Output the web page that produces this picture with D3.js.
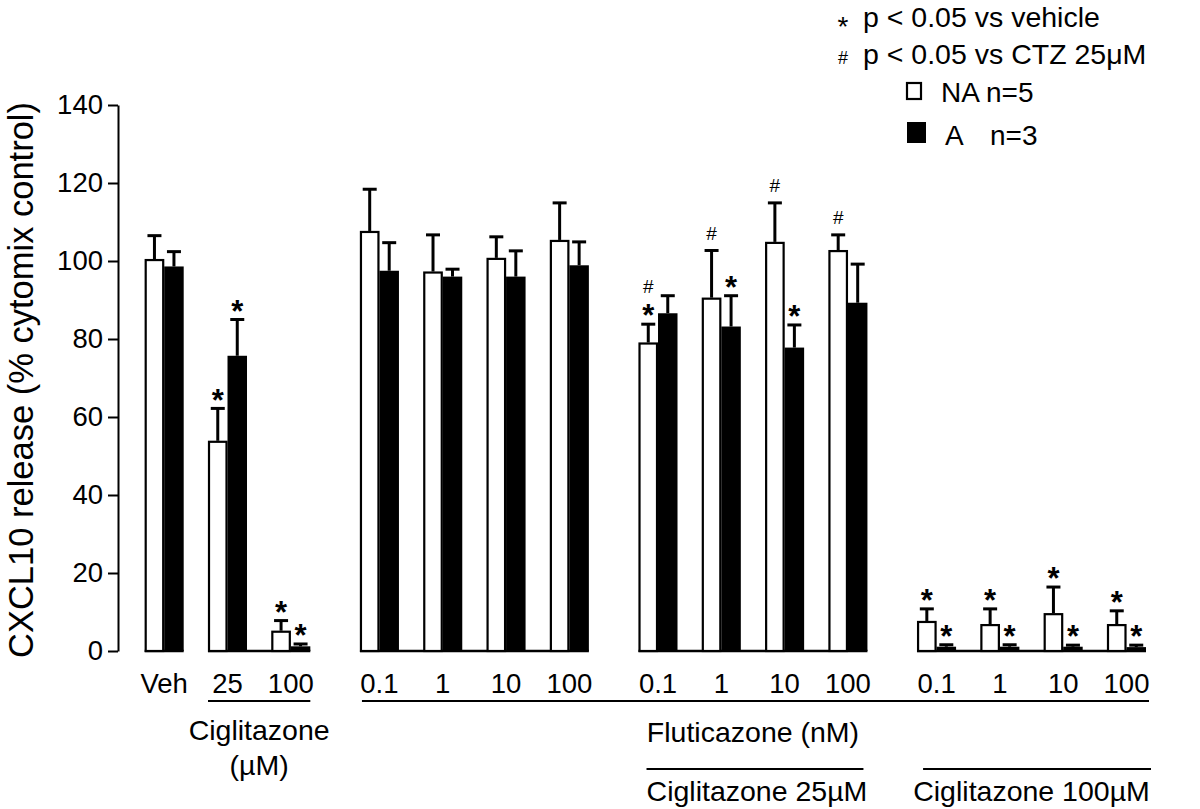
<!DOCTYPE html>
<html>
<head>
<meta charset="utf-8">
<script src="https://cdn.jsdelivr.net/npm/d3@7"></script>
<style>
  html, body { margin: 0; padding: 0; background: #fff; }
  svg { display: block; }
  text { font-family: "Liberation Sans", Arial, Helvetica, sans-serif; fill: #000; }
</style>
</head>
<body>
<svg id="chart" width="1200" height="809"></svg>
<script>
// ---------- data ----------
const categories = ["Veh", "25", "100", "0.1", "1", "10", "100", "0.1", "1", "10", "100", "0.1", "1", "10", "100"];
const groupIdx   = [0, 0, 0, 1, 1, 1, 1, 2, 2, 2, 2, 3, 3, 3, 3];
const naMean = [100.5, 53.9, 5.2, 107.7, 97.3, 100.8, 105.4, 79.1, 90.6, 104.9, 102.8, 7.7, 6.9, 9.7, 6.9];
const naErr  = [6.0, 8.3, 2.6, 10.7, 9.4, 5.4, 9.5, 4.7, 12.1, 10.0, 3.9, 3.1, 3.9, 6.7, 3.4];
const aMean  = [98.6, 75.7, 1.2, 97.5, 96.0, 96.0, 98.9, 86.6, 83.2, 77.8, 89.3, 1.1, 1.1, 1.1, 1.0];
const aErr   = [3.8, 9.3, 0.6, 7.2, 1.9, 6.6, 6.0, 4.5, 7.9, 5.8, 9.9, 0.5, 0.5, 0.4, 0.5];
const starNA = [0, 1, 1, 0, 0, 0, 0, 1, 0, 0, 0, 1, 1, 1, 1];
const starA  = [0, 1, 1, 0, 0, 0, 0, 0, 1, 1, 0, 1, 1, 1, 1];
const hashNA = [0, 0, 0, 0, 0, 0, 0, 1, 1, 1, 1, 0, 0, 0, 0];
const yTicks = [0, 20, 40, 60, 80, 100, 120, 140];
const baseSegments = [[0, 0], [1, 2], [3, 6], [7, 10], [11, 14]];
const yTitle = "CXCL10 release (% cytomix control)";
const legendSig = ["p < 0.05 vs vehicle", "p < 0.05 vs CTZ 25\u03BCM"];
const legendSeries = [["NA", "n=5"], ["A", "n=3"]];

// ---------- layout ----------
const svg = d3.select("#chart");
const gapRatio = 0.4;
const unit = i => i + groupIdx[i] * gapRatio;
const x = d3.scaleLinear().domain([0, unit(14)]).range([144.7, 1107]);
const bw = 19.5;
const y = d3.scaleLinear().domain([0, 140]).range([651, 105]);
const pos = i => x(unit(i));

// y axis
const yAxis = d3.axisLeft(y).tickValues(yTicks).tickSize(10).tickSizeOuter(0).tickPadding(5);
const ga = svg.append("g").attr("transform", "translate(118,0)").call(yAxis);
ga.select(".domain").attr("stroke", "#000").attr("stroke-width", 2);
ga.selectAll(".tick line").attr("stroke", "#000").attr("stroke-width", 2);
ga.selectAll(".tick text").attr("font-size", 27.5).attr("font-family", "Liberation Sans, Arial, sans-serif").attr("fill", "#000");

// y title
svg.append("text")
  .attr("transform", "translate(33,380) rotate(-90)")
  .attr("text-anchor", "middle")
  .attr("font-size", 34.5)
  .text(yTitle);

const idx = d3.range(categories.length);

// baselines
svg.append("g").selectAll("line").data(baseSegments).join("line")
  .attr("x1", d => pos(d[0])).attr("x2", d => pos(d[1]) + 2 * bw)
  .attr("y1", y(0)).attr("y2", y(0))
  .attr("stroke", "#000").attr("stroke-width", 2.5);

// error bars
function errBars(cls, mean, err, off) {
  const g = svg.append("g").attr("class", cls);
  g.selectAll("line.v").data(idx).join("line").attr("class", "v")
    .attr("x1", i => pos(i) + off).attr("x2", i => pos(i) + off)
    .attr("y1", i => y(mean[i])).attr("y2", i => y(mean[i] + err[i]))
    .attr("stroke", "#000").attr("stroke-width", 3);
  g.selectAll("line.c").data(idx).join("line").attr("class", "c")
    .attr("x1", i => pos(i) + off - 7).attr("x2", i => pos(i) + off + 7)
    .attr("y1", i => y(mean[i] + err[i])).attr("y2", i => y(mean[i] + err[i]))
    .attr("stroke", "#000").attr("stroke-width", 3);
}
errBars("errNA", naMean, naErr, bw / 2);
errBars("errA", aMean, aErr, bw * 1.5);

// bars NA (open)
svg.append("g").selectAll("rect").data(idx).join("rect")
  .attr("x", i => pos(i) + 1).attr("width", bw - 2)
  .attr("y", i => y(naMean[i]) + 1).attr("height", i => Math.max(0, y(0) - y(naMean[i]) - 1))
  .attr("fill", "#fff").attr("stroke", "#000").attr("stroke-width", 2.2);
// bars A (filled)
svg.append("g").selectAll("rect").data(idx).join("rect")
  .attr("x", i => pos(i) + bw).attr("width", bw)
  .attr("y", i => y(aMean[i])).attr("height", i => y(0) - y(aMean[i]))
  .attr("fill", "#000");

// significance markers
const starFs = 31, hashFs = 19;
const starBase = c => c + starFs * 0.59;
svg.append("g").selectAll("text").data(idx.filter(i => starNA[i])).join("text")
  .attr("x", i => pos(i) + bw / 2).attr("y", i => starBase(y(naMean[i] + naErr[i]) - 16))
  .attr("text-anchor", "middle").attr("font-size", starFs).attr("font-weight", "bold").text("*");
svg.append("g").selectAll("text").data(idx.filter(i => starA[i])).join("text")
  .attr("x", i => pos(i) + bw * 1.5).attr("y", i => starBase(y(aMean[i] + aErr[i]) - 16))
  .attr("text-anchor", "middle").attr("font-size", starFs).attr("font-weight", "bold").text("*");
svg.append("g").selectAll("text").data(idx.filter(i => hashNA[i])).join("text")
  .attr("x", i => pos(i) + bw / 2)
  .attr("y", i => y(naMean[i] + naErr[i]) - (starNA[i] ? 38 : 17) + hashFs * 0.34)
  .attr("text-anchor", "middle").attr("font-size", hashFs)
  .attr("font-family", "Liberation Serif, Times New Roman, serif").text("#");

// x category labels
svg.append("g").selectAll("text").data(idx).join("text")
  .attr("x", i => pos(i) + bw).attr("y", 693)
  .attr("text-anchor", "middle").attr("font-size", 27.5).text(i => categories[i]);

// underlines under labels
const ul = svg.append("g").attr("stroke", "#000").attr("stroke-width", 2.2);
ul.append("line").attr("x1", pos(1)).attr("x2", pos(2) + 2 * bw).attr("y1", 701).attr("y2", 701);
ul.append("line").attr("x1", pos(3) + 2).attr("x2", pos(14) + 2 * bw + 3).attr("y1", 701).attr("y2", 701);
ul.append("line").attr("x1", pos(7) + 8).attr("x2", pos(10) + 2 * bw - 4).attr("y1", 769).attr("y2", 769);
ul.append("line").attr("x1", pos(11) + 6).attr("x2", pos(14) + 2 * bw + 5).attr("y1", 769).attr("y2", 769);

const mid = (a, b) => (pos(a) + pos(b) + 2 * bw) / 2;
svg.append("text").attr("x", mid(1, 2)).attr("y", 740).attr("text-anchor", "middle").attr("font-size", 28.5).text("Ciglitazone");
svg.append("text").attr("x", mid(1, 2)).attr("y", 775).attr("text-anchor", "middle").attr("font-size", 28.5).text("(\u00B5M)");
svg.append("text").attr("x", mid(3, 14)).attr("y", 742).attr("text-anchor", "middle").attr("font-size", 28.5).text("Fluticazone (nM)");
svg.append("text").attr("x", mid(7, 10) + 4).attr("y", 801).attr("text-anchor", "middle").attr("font-size", 28.5).text("Ciglitazone 25\u00B5M");
svg.append("text").attr("x", mid(11, 14)).attr("y", 801).attr("text-anchor", "middle").attr("font-size", 28.5).text("Ciglitazone 100\u00B5M");

// legend
const lg = svg.append("g");
lg.append("text").attr("x", 843).attr("y", 19 + 28 * 0.59).attr("text-anchor", "middle").attr("font-size", 28).text("*");
lg.append("text").attr("x", 843).attr("y", 58 + hashFs * 0.34).attr("text-anchor", "middle").attr("font-size", 18)
  .attr("font-family", "Liberation Serif, Times New Roman, serif").text("#");
lg.selectAll("text.sig").data(legendSig).join("text").attr("class", "sig")
  .attr("x", 863).attr("y", (d, i) => 27 + i * 37).attr("font-size", 28.5).text(d => d);
lg.append("rect").attr("x", 907).attr("y", 83).attr("width", 14).attr("height", 16)
  .attr("fill", "#fff").attr("stroke", "#000").attr("stroke-width", 2.2);
lg.append("rect").attr("x", 907).attr("y", 122).attr("width", 19).attr("height", 21).attr("fill", "#000");
lg.append("text").attr("x", 941).attr("y", 102).attr("font-size", 28).text(legendSeries[0][0]);
lg.append("text").attr("x", 986).attr("y", 102).attr("font-size", 28).text(legendSeries[0][1]);
lg.append("text").attr("x", 945).attr("y", 145).attr("font-size", 28).text(legendSeries[1][0]);
lg.append("text").attr("x", 990).attr("y", 145).attr("font-size", 28).text(legendSeries[1][1]);
</script>
</body>
</html>
